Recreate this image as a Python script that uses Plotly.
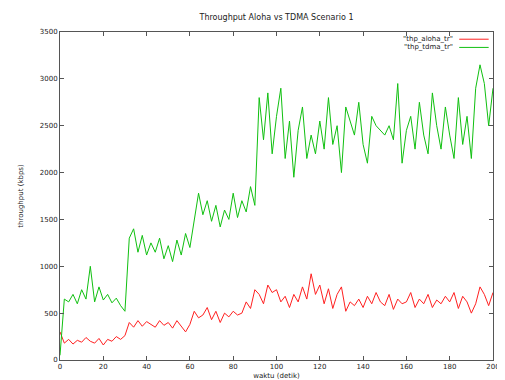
import plotly.graph_objects as go

t = list(range(0, 201, 2))

tdma = [50, 650, 620, 700, 600, 750, 650, 1000, 620, 780, 640, 700, 610, 660, 580, 520,
        1300, 1400, 1150, 1330, 1120, 1250, 1150, 1300, 1080, 1220, 1050, 1280, 1120, 1350, 1200,
        1500, 1780, 1550, 1700, 1480, 1650, 1420, 1600, 1500, 1780, 1520, 1700, 1580, 1850, 1650,
        2800, 2350, 2850, 2200, 2600, 2900, 2150, 2550, 1950, 2450, 2700, 2150, 2400, 2200, 2550,
        2250, 2800, 2300, 2500, 2000, 2700, 2550, 2400, 2750, 2300, 2100, 2600, 2500, 2450, 2400,
        2500, 2350, 2950, 2100, 2450, 2600, 2250, 2750, 2400, 2200, 2850, 2500, 2250, 2700, 2400,
        2150, 2800, 2300, 2600, 2150, 2900, 3150, 2950, 2500, 2900]

aloha = [300, 180, 220, 170, 210, 190, 240, 200, 180, 230, 160, 220, 200, 250, 220, 260,
         400, 350, 420, 360, 410, 380, 350, 420, 370, 400, 340, 420, 360, 300, 380,
         520, 450, 480, 560, 430, 520, 400, 500, 460, 520, 480, 500, 620, 550, 750,
         700, 600, 800, 720, 750, 620, 680, 560, 700, 620, 780, 650, 920, 700, 800,
         600, 760, 550, 700, 780, 520, 620, 580, 650, 560, 680, 600, 720, 620, 580,
         700, 540, 650, 600, 620, 720, 560, 650, 600, 700, 560, 640, 600, 680, 620,
         720, 550, 680, 620, 500, 600, 780, 700, 580, 720]

series_names = ['"thp_aloha_tr"', '"thp_tdma_tr"']
series_colors = ["#ff2020", "#10c010"]

x_ticks = list(range(0, 201, 20))
y_ticks = list(range(0, 3501, 500))

fig = go.Figure()
for name, ys, col in zip(series_names, [aloha, tdma], series_colors):
    fig.add_trace(go.Scatter(x=t, y=ys, mode="lines", name=name, showlegend=False,
                             line=dict(color=col, width=1)))

font = dict(family="DejaVu Sans", size=7, color="#222222")
axis_common = dict(showgrid=False, zeroline=False, showline=True, linecolor="#555555",
                   linewidth=1, mirror="ticks", ticks="inside", ticklen=4,
                   tickcolor="#555555", tickfont=font, automargin=False)

# gnuplot-style key: right-aligned text followed by a line sample
key_y = [0.978, 0.953]
for name, col, ky in zip(series_names, series_colors, key_y):
    fig.add_annotation(xref="paper", yref="paper", x=0.912, y=ky, text=name,
                       showarrow=False, xanchor="right", yanchor="middle", font=font)
    fig.add_shape(type="line", xref="paper", yref="paper", x0=0.922, x1=0.99,
                  y0=ky, y1=ky, line=dict(color=col, width=1))

# page body has an 8px margin: size the figure to fill the rest of the window
fig.update_layout(
    width=497, height=372,
    margin=dict(l=52, r=12, t=24, b=20),
    paper_bgcolor="white", plot_bgcolor="white",
    title=dict(text="Throughput Aloha vs TDMA Scenario 1", x=0.5, xanchor="center",
               xref="paper", yref="container", y=0.975, yanchor="middle",
               automargin=False,
               font=dict(family="DejaVu Sans", size=8, color="#222222")),
    xaxis=dict(range=[0, 200], tickvals=x_ticks, ticktext=[str(v) for v in x_ticks],
               title=dict(text="waktu (detik)", font=font, standoff=4), **axis_common),
    yaxis=dict(range=[0, 3500], tickvals=y_ticks, ticktext=[str(v) for v in y_ticks],
               title=dict(text="throughput (kbps)", font=font, standoff=15), **axis_common),
    showlegend=False,
)

fig.write_html("out.html")
